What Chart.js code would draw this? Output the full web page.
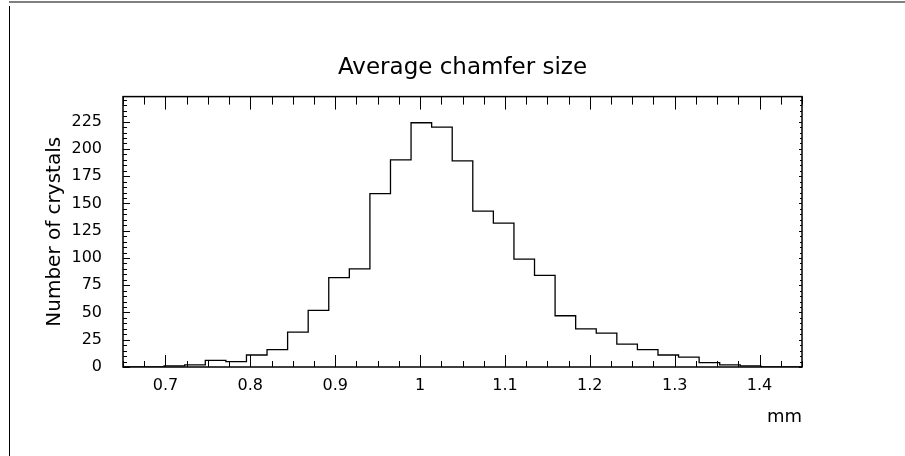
<!DOCTYPE html>
<html>
<head>
<meta charset="utf-8">
<script src="https://cdn.jsdelivr.net/npm/chart.js@4/dist/chart.umd.min.js"></script>
<style>
  html, body { margin: 0; padding: 0; background: #fff; }
  #wrap { position: relative; width: 905px; height: 456px; overflow: hidden; }
  #topLine { position: absolute; left: 9px; right: 0; top: 1px; height: 2px; background: #808080; }
  #leftLine { position: absolute; left: 9px; top: 6px; bottom: 0; width: 1px; background: #000; }
</style>
</head>
<body>
<div id="wrap">
  <canvas id="chart" width="905" height="456"></canvas>
  <div id="topLine"></div>
  <div id="leftLine"></div>
</div>
<script>
// ---------------- Data ----------------
const binLow = 0.65;
const binHigh = 1.45;
// entries per bin (33 bins from 0.65 to 1.45 mm)
const counts = [0, 0, 1, 2, 6, 5, 11, 16, 32, 52, 82, 90, 159, 190, 224, 220,
                189, 143, 132, 99, 84, 47, 35, 31, 21, 16, 11, 9, 4, 2, 1, 0, 0];
const xTicks = [0.7, 0.8, 0.9, 1, 1.1, 1.2, 1.3, 1.4];
const yTicks = [0, 25, 50, 75, 100, 125, 150, 175, 200, 225];
const yMax = 248;

const FONT = "'DejaVu Sans', sans-serif";

// bin edges -> step points
const binWidth = (binHigh - binLow) / counts.length;
const points = counts.map((c, i) => ({ x: binLow + i * binWidth, y: c }));
points.push({ x: binHigh, y: counts[counts.length - 1] });

// ---------------- Frame + inward ticks ----------------
const frameTicks = {
  id: "frameTicks",
  afterDatasetsDraw(chart) {
    const { ctx, chartArea: a, scales: { x, y } } = chart;
    ctx.save();
    ctx.strokeStyle = "#000";
    ctx.lineWidth = 1;
    ctx.beginPath();
    // x ticks every 0.025, major every 0.1
    for (let i = 0; i <= 32; i++) {
      const v = binLow + i * 0.025;
      const major = Math.abs(v * 10 - Math.round(v * 10)) < 1e-6;
      const px = Math.round(x.getPixelForValue(v)) + 0.5;
      ctx.moveTo(px, a.bottom);
      ctx.lineTo(px, a.bottom - (major ? 12 : 6));
      ctx.moveTo(px, a.top);
      ctx.lineTo(px, a.top + (major ? 13 : 8));
    }
    // y ticks every 5, major every 25
    for (let v = 0; v <= yMax; v += 5) {
      const major = v % 25 === 0;
      const py = Math.round(y.getPixelForValue(v)) + 0.5;
      ctx.moveTo(a.left, py);
      ctx.lineTo(a.left + (major ? 7 : 4), py);
      ctx.moveTo(a.right, py);
      ctx.lineTo(a.right - (major ? 3 : 2), py);
    }
    ctx.stroke();
    ctx.lineWidth = 1.5;
    ctx.strokeRect(a.left, a.top, a.right - a.left, a.bottom - a.top);
    ctx.restore();
  }
};

// ---------------- Chart ----------------
const ctx = document.getElementById("chart").getContext("2d");
new Chart(ctx, {
  type: "line",
  data: {
    datasets: [{
      data: points,
      borderColor: "#000",
      borderWidth: 1.3,
      pointRadius: 0,
      stepped: true,
      fill: false
    }]
  },
  options: {
    responsive: false,
    animation: false,
    layout: { padding: { top: 0, right: 103, left: 0, bottom: 0 } },
    plugins: {
      legend: { display: false },
      tooltip: { enabled: false },
      title: {
        display: true,
        fullSize: false,
        text: "Average chamfer size",
        color: "#000",
        font: { family: FONT, size: 23, weight: "normal" },
        padding: { top: 54, bottom: 15 }
      }
    },
    scales: {
      x: {
        type: "linear",
        min: binLow,
        max: binHigh,
        afterBuildTicks: s => { s.ticks = xTicks.map(v => ({ value: v })); },
        afterFit: s => { s.height = 89; },
        grid: { display: false, drawTicks: false },
        border: { display: false },
        ticks: {
          color: "#000",
          font: { family: FONT, size: 16 },
          padding: 9,
          maxRotation: 0,
          autoSkip: false,
          callback: v => String(v)
        },
        title: {
          display: true,
          text: "mm",
          align: "end",
          color: "#000",
          font: { family: FONT, size: 18 },
          padding: { top: 0, bottom: 28 }
        }
      },
      y: {
        min: 0,
        max: yMax,
        afterBuildTicks: s => { s.ticks = yTicks.map(v => ({ value: v })); },
        afterFit: s => { s.width = 123; },
        grid: { display: false, drawTicks: false },
        border: { display: false },
        ticks: {
          color: "#000",
          font: { family: FONT, size: 16 },
          padding: 21,
          callback: v => String(v)
        },
        title: {
          display: true,
          text: "Number of crystals",
          color: "#000",
          font: { family: FONT, size: 20 },
          padding: { top: 43, bottom: 0 }
        }
      }
    }
  },
  plugins: [frameTicks]
});
</script>
</body>
</html>
